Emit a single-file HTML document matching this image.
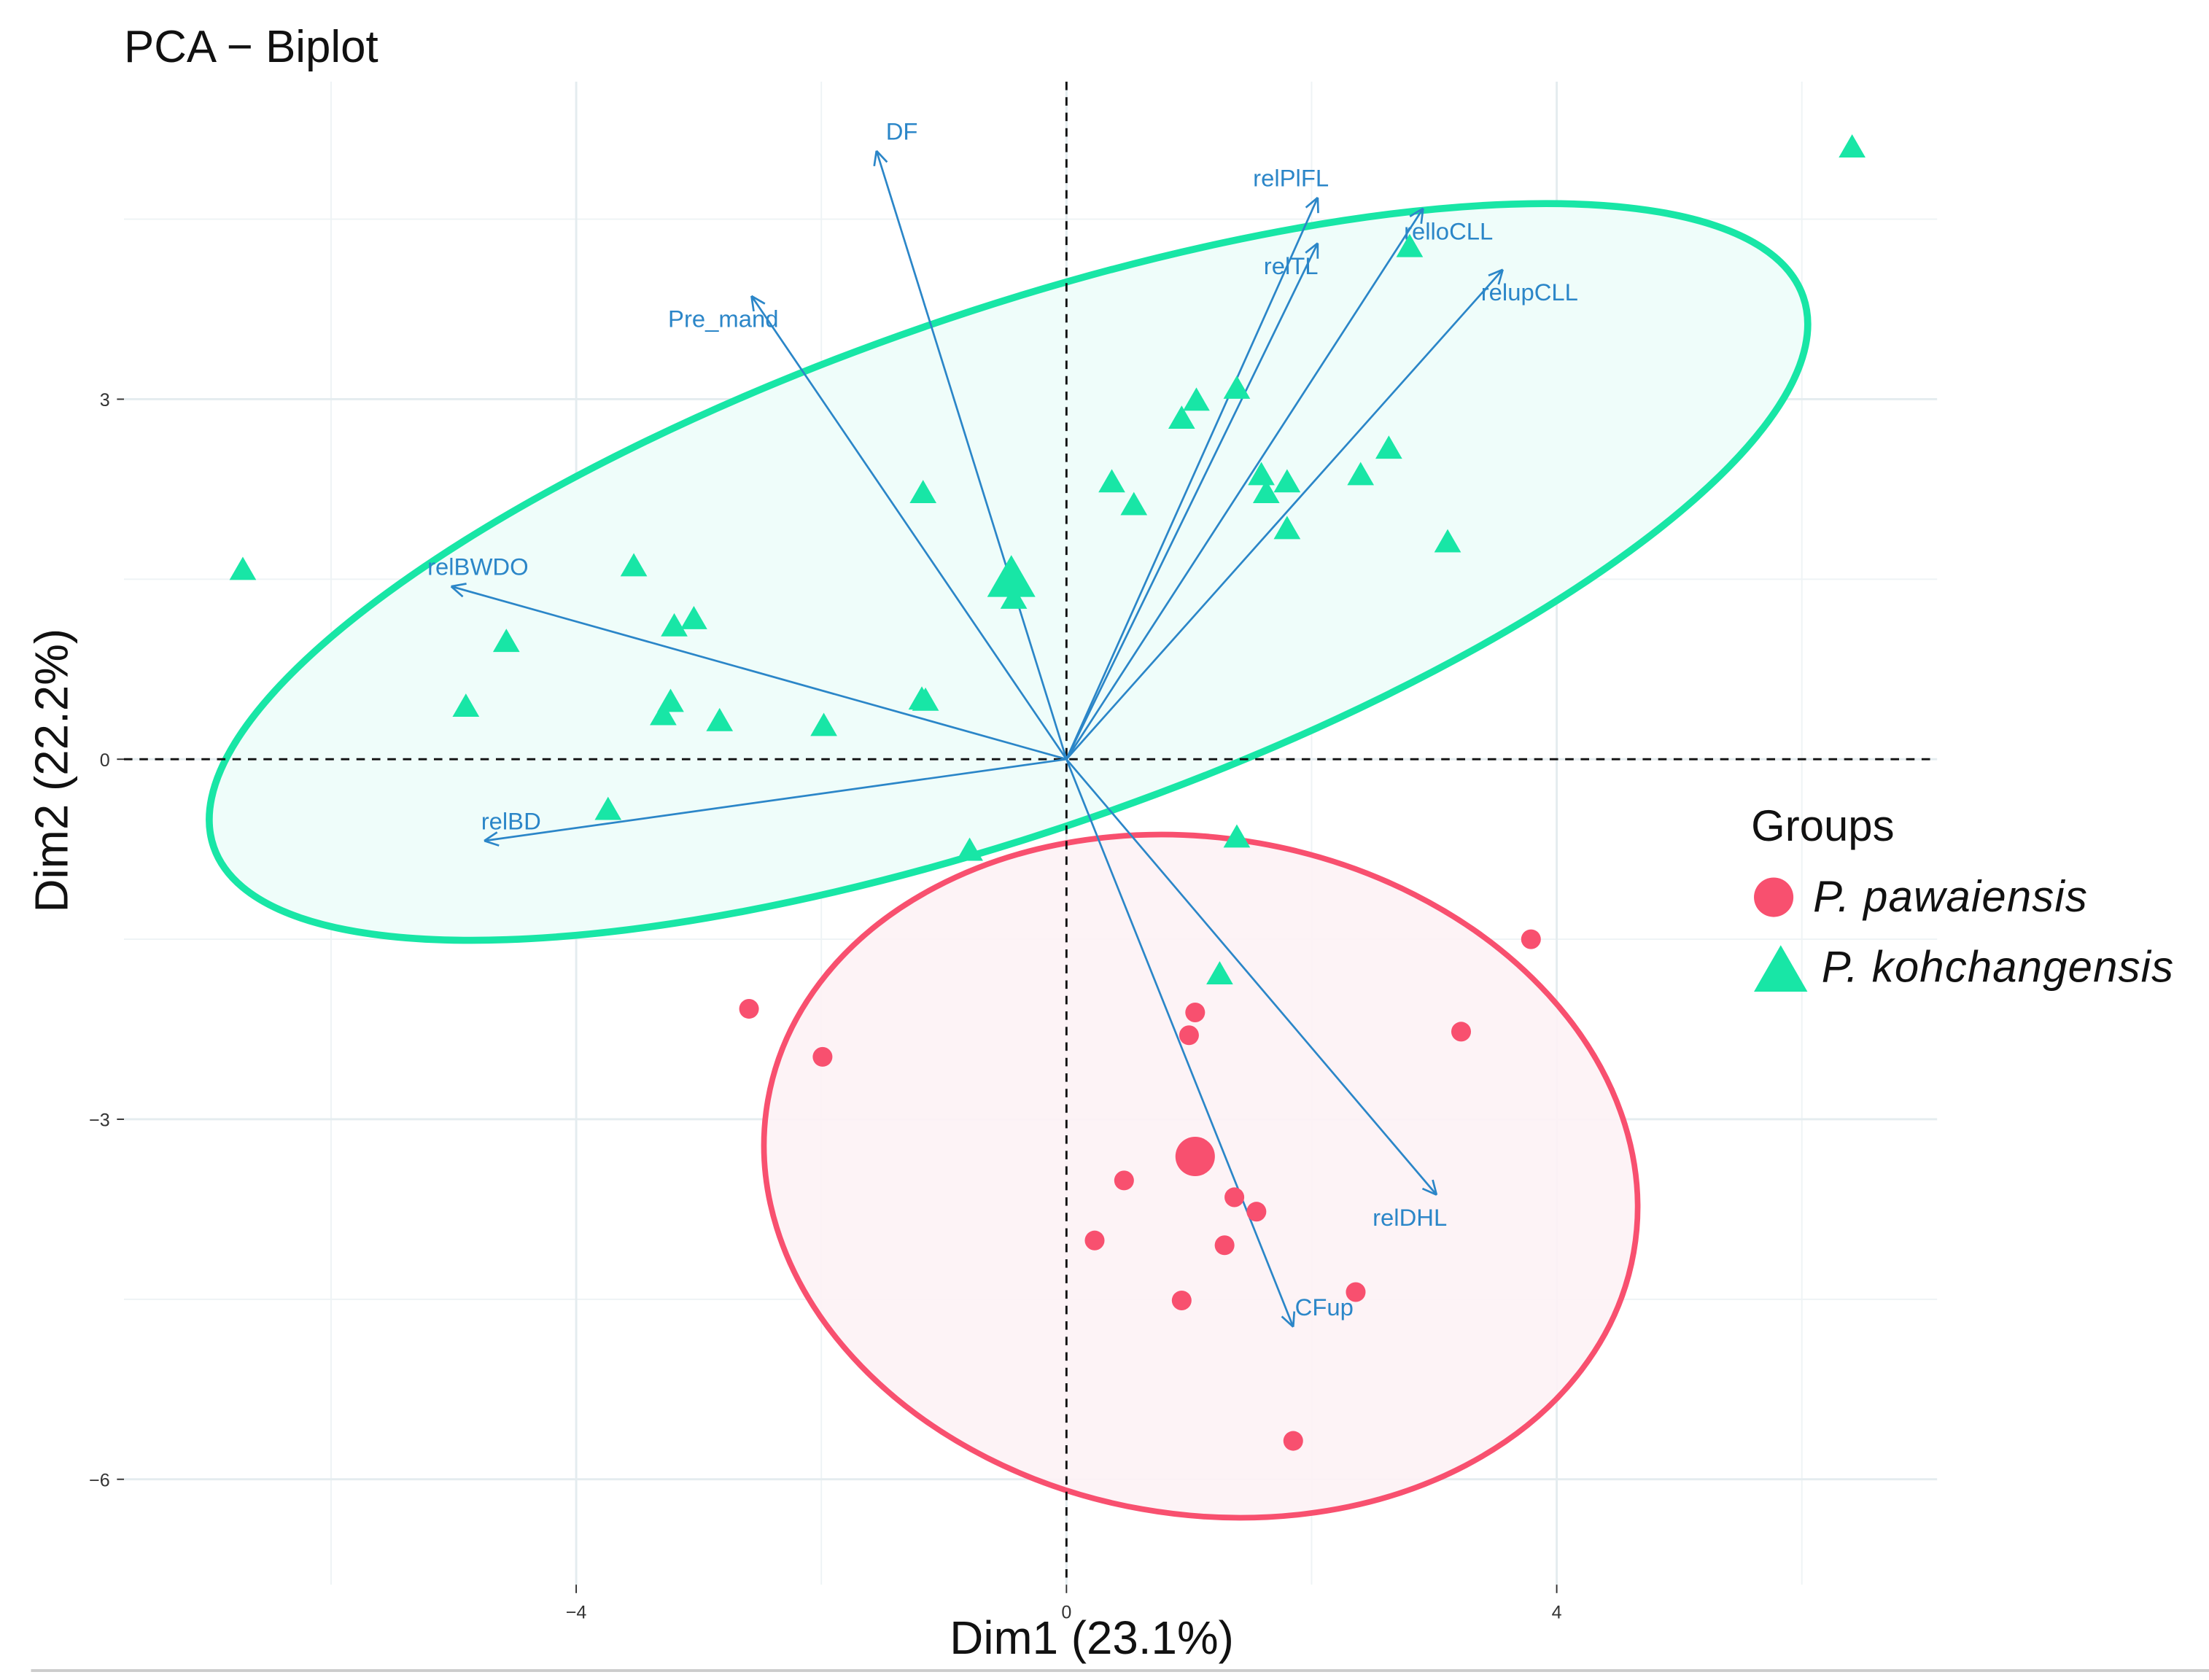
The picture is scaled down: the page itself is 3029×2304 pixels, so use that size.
<!DOCTYPE html>
<html><head><meta charset="utf-8"><style>
html,body{margin:0;padding:0;background:#fff}
svg{display:block}
text{font-family:"Liberation Sans",sans-serif}
</style></head><body>
<svg id="chart" width="3029" height="2304" viewBox="0 0 1568 1192.7" preserveAspectRatio="none" xmlns="http://www.w3.org/2000/svg">
<text x="88" y="44" font-size="32" fill="#111">PCA − Biplot</text>
<g id="grid"></g>
<g id="ellipses"></g>
<g id="refs"></g>
<g id="arrows"></g>
<g id="points"></g>
<g id="axes"></g>
<text x="775" y="1174" font-size="33" text-anchor="middle" fill="#111">Dim1 (23.1%)</text>
<text transform="translate(48,547) rotate(-90)" font-size="33" text-anchor="middle" fill="#111">Dim2 (22.2%)</text>
<g>
<text x="1243" y="597" font-size="31" fill="#111">Groups</text>
<g>
<circle cx="1259" cy="637" r="14" fill="#f8506f"/>
<text x="1287" y="647" font-size="31" font-style="italic" letter-spacing="0.6" fill="#111">P. pawaiensis</text></g>
<g>
<polygon points="1264,671 1283,704 1245,704" fill="#18e6a6"/>
<text x="1293" y="697" font-size="31" font-style="italic" letter-spacing="0.6" fill="#111">P. kohchangensis</text></g>
</g>
<line x1="22" y1="1186" x2="1568" y2="1186" stroke="#ccc" stroke-width="2"/>
</svg>
<script>
const xTicks=[-4,0,4];
const yTicks=[3,0,-3,-6];
const xMinor=[-6,-2,2,6];
const yMinor=[4.5,1.5,-1.5,-4.5];
const kohX=[-6.72,-3.53,-3.20,-3.04,-4.57,-4.90,-3.23,-3.29,-2.83,-1.98,-1.18,-1.15,-1.17,-3.74,-0.79,1.39,1.25,-0.43,0.37,0.55,0.94,1.06,1.39,1.59,1.63,1.80,1.80,2.40,2.63,2.80,3.11,6.41];
const kohY=[1.57,1.60,1.10,1.16,0.97,0.43,0.47,0.36,0.31,0.27,0.49,0.48,2.21,-0.43,-0.77,-0.66,-1.80,1.33,2.30,2.11,2.83,2.98,3.08,2.36,2.21,2.30,1.91,2.36,2.58,4.26,1.80,5.09];
const pawX=[-2.59,-1.99,1.05,1.00,0.47,1.37,1.55,0.23,1.29,0.94,2.36,1.85,3.79,3.22];
const pawY=[-2.08,-2.48,-2.11,-2.30,-3.51,-3.65,-3.77,-4.01,-4.05,-4.51,-4.44,-5.68,-1.50,-2.27];
const centroidKoh=[-0.45,1.49];
const centroidPaw=[1.05,-3.31];
const varNames=["DF","relPlFL","relTL","relloCLL","relupCLL","Pre_mand","relBWDO","relBD","relDHL","CFup"];
const varX=[-1.55,2.05,2.05,2.91,3.56,-2.57,-5.02,-4.75,3.02,1.85];
const varY=[5.07,4.68,4.30,4.59,4.08,3.86,1.44,-0.68,-3.63,-4.73];
const X0=757,XU=87,Y0=539,YU=85.2;
const sx=v=>X0+v*XU, sy=v=>Y0-v*YU;
const NS="http://www.w3.org/2000/svg";
function mk(t,a,p){const e=document.createElementNS(NS,t);for(const k in a)e.setAttribute(k,a[k]);p.appendChild(e);return e;}
const L=88,R=1375,T=58,B=1125;
const grid=document.getElementById('grid');
xMinor.forEach(v=>mk('line',{x1:sx(v),x2:sx(v),y1:T,y2:B,stroke:'#eef3f5','stroke-width':1},grid));
yMinor.forEach(v=>mk('line',{x1:L,x2:R,y1:sy(v),y2:sy(v),stroke:'#eef3f5','stroke-width':1},grid));
xTicks.forEach(v=>mk('line',{x1:sx(v),x2:sx(v),y1:T,y2:B,stroke:'#e4ecef','stroke-width':1.5},grid));
yTicks.forEach(v=>mk('line',{x1:L,x2:R,y1:sy(v),y2:sy(v),stroke:'#e4ecef','stroke-width':1.5},grid));
const axes=document.getElementById('axes');
xTicks.forEach(v=>{mk('line',{x1:sx(v),x2:sx(v),y1:B,y2:B+6,stroke:'#333'},axes);
const t=mk('text',{x:sx(v),y:1149,'font-size':13,'text-anchor':'middle',fill:'#333'},axes);t.textContent=v<0?'−'+(-v):v;

});
yTicks.forEach(v=>{mk('line',{x1:L-5,x2:L,y1:sy(v),y2:sy(v),stroke:'#333'},axes);
const t=mk('text',{x:L-10,y:sy(v)+5,'font-size':13,'text-anchor':'end',fill:'#333'},axes);t.textContent=v<0?'−'+(-v):v;

});
const refs=document.getElementById('refs');
mk('line',{x1:sx(0),x2:sx(0),y1:T,y2:B,stroke:'#111','stroke-width':1.5,'stroke-dasharray':'6,5'},refs);
mk('line',{x1:L,x2:R,y1:sy(0),y2:sy(0),stroke:'#111','stroke-width':1.5,'stroke-dasharray':'6,5'},refs);
const el=document.getElementById('ellipses');
const e1=mk('ellipse',{cx:0,cy:0,rx:597,ry:184,fill:'#effdfa',stroke:'#18e6a6','stroke-width':5,transform:`translate(${sx(centroidKoh[0])-2},${sy(centroidKoh[1])-6}) rotate(-19.1)`},el);


const e2=mk('ellipse',{cx:0,cy:0,rx:312,ry:240,fill:'#fdf2f5','fill-opacity':0.9,stroke:'#f8506f','stroke-width':4,transform:`translate(${sx(centroidPaw[0])+4},${sy(centroidPaw[1])+14}) rotate(10)`},el);


const ar=document.getElementById('arrows');
varNames.forEach((n,i)=>{
const x2=sx(varX[i]),y2=sy(varY[i]),x1=sx(0),y1=sy(0);
const g=mk('g',{},ar);


mk('line',{x1,y1,x2,y2,stroke:'#2b86c8','stroke-width':1.4},g);
const a=Math.atan2(y2-y1,x2-x1),h=11;
[a+Math.PI-0.45,a+Math.PI+0.45].forEach(b=>mk('line',{x1:x2,y1:y2,x2:x2+h*Math.cos(b),y2:y2+h*Math.sin(b),stroke:'#2b86c8','stroke-width':1.4},g));
const t=mk('text',{x:x2+18,y:y2-8,'font-size':17,'text-anchor':'middle',fill:'#2b86c8'},g);
t.textContent=n;
const dy={DF:-8,relPlFL:-8,relTL:22,relloCLL:22,relupCLL:22,Pre_mand:22,relBWDO:-8,relBD:-8,relDHL:22,CFup:-8};
const dx={DF:18,relPlFL:-19,relTL:-19,relloCLL:18,relupCLL:19,Pre_mand:-20,relBWDO:19,relBD:19,relDHL:-19,CFup:22};
t.setAttribute('x',x2+dx[n]);t.setAttribute('y',y2+dy[n]);
});
const pts=document.getElementById('points');
function tri(x,y,s,p){return mk('polygon',{points:`${x},${y-s} ${x+s*0.95},${y+s*0.65} ${x-s*0.95},${y+s*0.65}`,fill:'#18e6a6'},p);}
kohX.forEach((v,i)=>{const t=tri(sx(v),sy(kohY[i]),10,pts);

});
pawX.forEach((v,i)=>{const c=mk('circle',{cx:sx(v),cy:sy(pawY[i]),r:7,fill:'#f8506f'},pts);

});
const ck=tri(sx(centroidKoh[0]),sy(centroidKoh[1]),18,pts);


const cp=mk('circle',{cx:sx(centroidPaw[0]),cy:sy(centroidPaw[1]),r:14,fill:'#f8506f'},pts);


</script>
</body></html>
